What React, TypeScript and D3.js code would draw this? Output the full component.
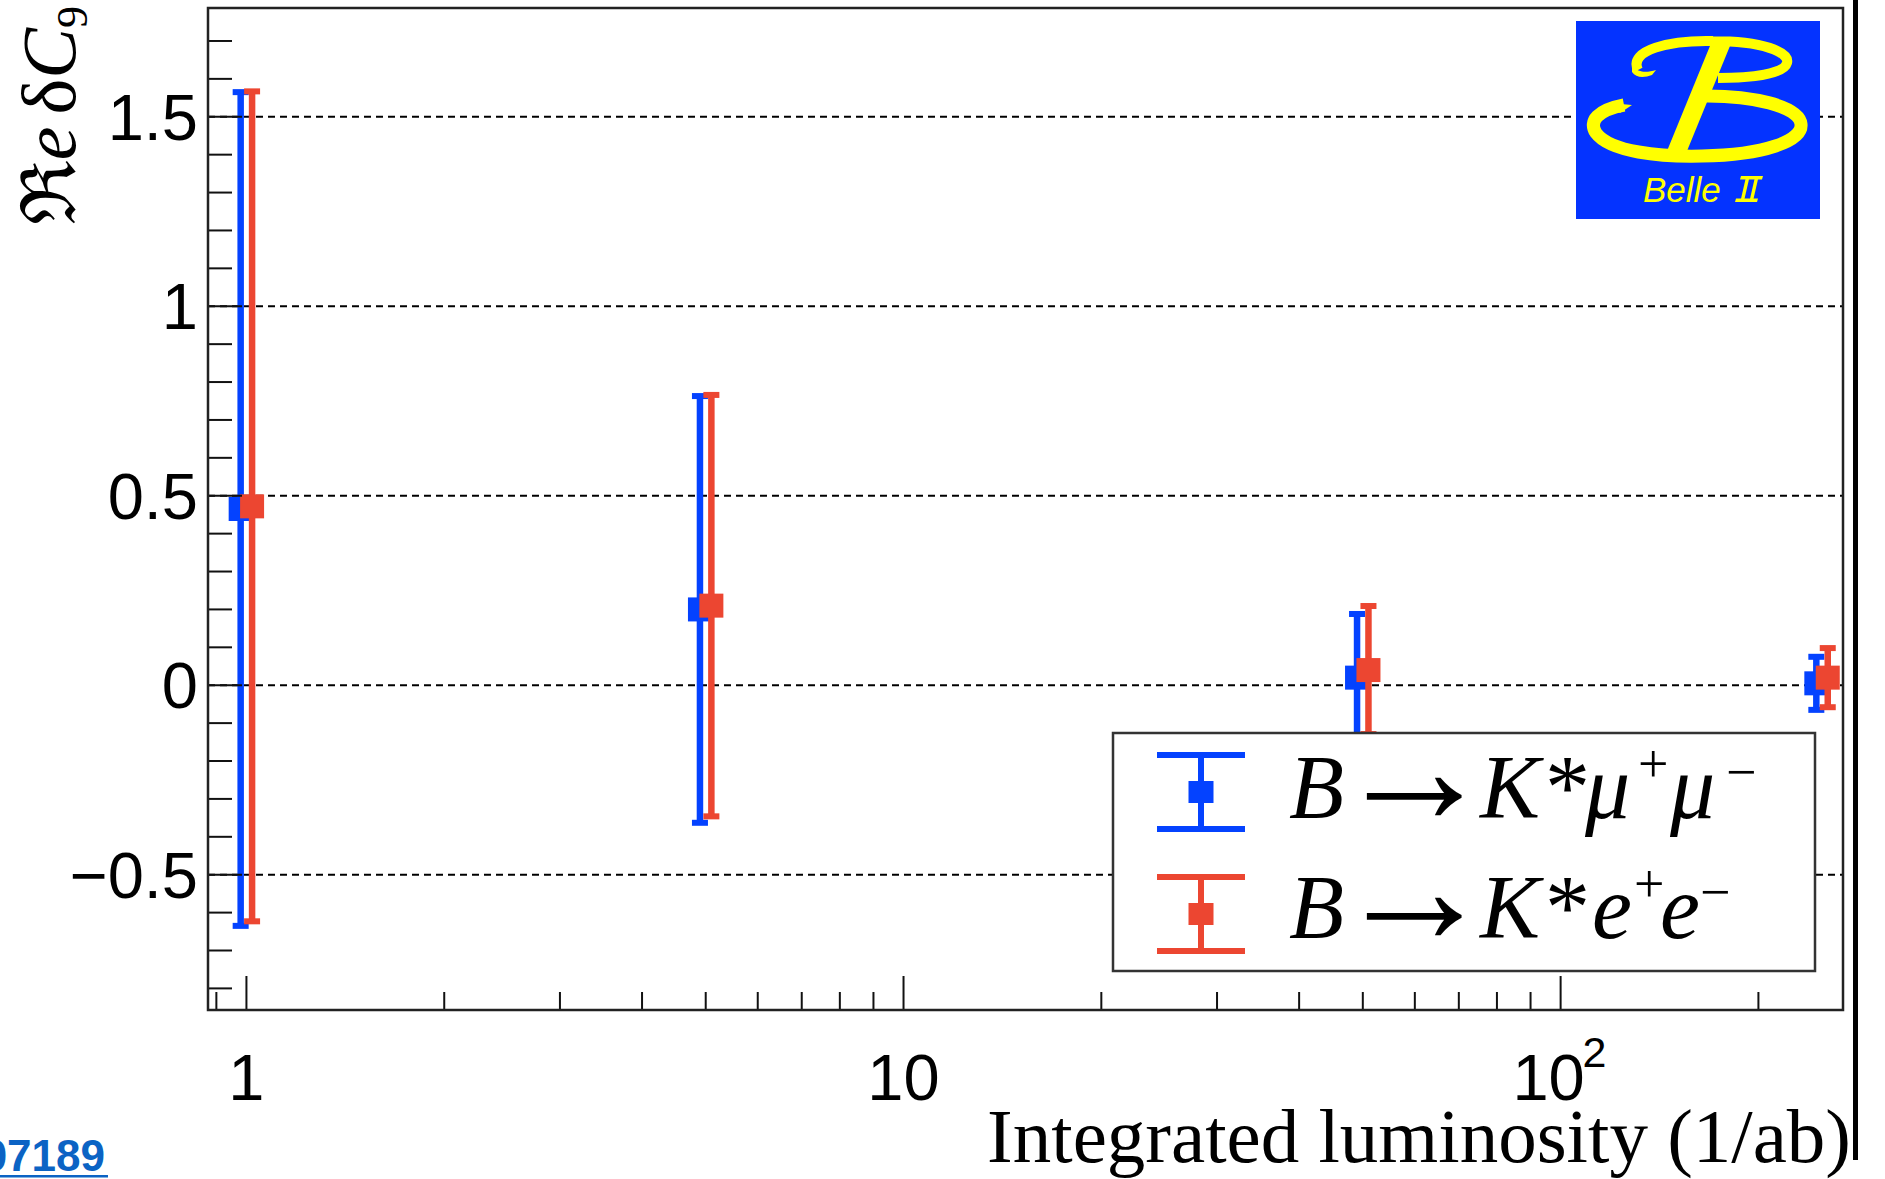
import React from "react";
import * as d3 from "d3";

// Projected sensitivity on Re(δC9) vs integrated luminosity
const luminosity = [1, 5, 50, 250];
const muValues = [0.465, 0.2, 0.02, 0.005];
const muErrors = [1.1, 0.563, 0.168, 0.07];
const eeValues = [0.472, 0.21, 0.04, 0.02];
const eeErrors = [1.095, 0.556, 0.169, 0.078];

const xMajorTicks = [1, 10, 100];
const xMinorTicks = [0.9, 2, 3, 4, 5, 6, 7, 8, 9, 20, 30, 40, 50, 60, 70, 80, 90, 200];
const yMajorTicks = [-0.5, 0, 0.5, 1, 1.5];
const yTickLabels = ["\u22120.5", "0", "0.5", "1", "1.5"];
const yMinorTicks = d3.range(-8, 18).map((i) => i / 10);

const W = 1885;
const H = 1179;
const frame = { left: 208, right: 1843, top: 8, bottom: 1010 };

const BLUE = "#0442ff";
const RED = "#ec4631";

const x = d3.scaleLog().domain([0.874, 269]).range([frame.left, frame.right]);
const y = d3.scaleLinear().domain([-0.857, 1.787]).range([frame.bottom, frame.top]);

const sans = "'Liberation Sans', Arial, Helvetica, sans-serif";
const serif = "'Liberation Serif', 'Times New Roman', 'DejaVu Serif', serif";

function ErrorSeries({ values, errors, shift, color }) {
  return (
    <g>
      {luminosity.map((l, i) => {
        const cx = x(l * shift);
        const yc = y(values[i]);
        const yHi = y(values[i] + errors[i]);
        const yLo = y(values[i] - errors[i]);
        return (
          <g key={i}>
            <line x1={cx} x2={cx} y1={yHi} y2={yLo} stroke={color} strokeWidth={6.5} />
            <rect x={cx - 8} y={yHi - 3} width={16} height={6} fill={color} />
            <rect x={cx - 8} y={yLo - 3} width={16} height={6} fill={color} />
            <rect x={cx - 12} y={yc - 12} width={24} height={24} fill={color} />
          </g>
        );
      })}
    </g>
  );
}

function LegendSymbol({ cx, cy, color }) {
  return (
    <g>
      <line x1={cx} x2={cx} y1={cy - 37} y2={cy + 37} stroke={color} strokeWidth={6} />
      <rect x={cx - 44} y={cy - 40} width={88} height={6} fill={color} />
      <rect x={cx - 44} y={cy + 34} width={88} height={6} fill={color} />
      <rect x={cx - 12.5} y={cy - 11} width={25} height={22} fill={color} />
    </g>
  );
}

function BelleLogo() {
  const yellow = "#ffff00";
  return (
    <g>
      <rect x={1576} y={21} width={244} height={198} fill="#0433ff" />
      <path
        d="M1638,70 C1628,50 1670,40 1713,41 C1762,41 1790,52 1787,63 C1784,74 1752,78 1718,78"
        fill="none"
        stroke={yellow}
        strokeWidth={10}
      />
      <path d="M1632,66 C1640,74 1648,72 1656,70 L1652,75 C1644,78 1636,78 1632,72 Z" fill={yellow} />
      <path
        d="M1624,105 C1598,110 1588,121 1596,133 C1610,152 1660,157 1702,156 C1764,155 1803,141 1801,124 C1799,106 1752,95 1700,96"
        fill="none"
        stroke={yellow}
        strokeWidth={13}
      />
      <path d="M1610,103 L1632,105 L1620,113 Z" fill={yellow} />
      <polygon points="1712,41 1732,41 1687,151 1667,151" fill={yellow} />
      <text x={1643} y={202} fontFamily={sans} fontStyle="italic" fontSize={35} fill={yellow}>
        Belle
      </text>
      <g fill={yellow}>
        <polygon points="1741,176 1763,176 1762,179.5 1740,179.5" />
        <polygon points="1736,198.5 1758,198.5 1757,202 1735,202" />
        <polygon points="1746,177 1749.5,177 1744,201 1740.5,201" />
        <polygon points="1755,177 1758.5,177 1753,201 1749.5,201" />
      </g>
    </g>
  );
}

export default function App() {
  const yTickLen = 24;
  const yMajorLen = 34;
  const xMajorLen = 34;
  const xMinorLen = 18;

  return (
    <div style={{ position: "absolute", left: 0, top: 0 }}>
      <svg width={W} height={H} viewBox={`0 0 ${W} ${H}`} style={{ display: "block", background: "#fff" }}>
        {/* dotted horizontal grid */}
        {yMajorTicks.map((v) => (
          <line
            key={`g${v}`}
            x1={frame.left}
            x2={frame.right}
            y1={y(v)}
            y2={y(v)}
            stroke="#000"
            strokeWidth={2}
            strokeDasharray="7 5"
          />
        ))}

        <ErrorSeries values={muValues} errors={muErrors} shift={0.98} color={BLUE} />
        <ErrorSeries values={eeValues} errors={eeErrors} shift={1.02} color={RED} />

        <BelleLogo />

        {/* legend */}
        <rect x={1113} y={733} width={702} height={238} fill="#fff" stroke="#333" strokeWidth={2.5} />
        <LegendSymbol cx={1201} cy={792} color={BLUE} />
        <LegendSymbol cx={1201} cy={914} color={RED} />
        <text fontFamily={serif} fontSize={90} fill="#000">
          <tspan x={1289} y={818} fontStyle="italic">B</tspan>
          <tspan x={1334} y={823} fontSize={160}>{"\u2192"}</tspan>
          <tspan x={1480} y={818} fontStyle="italic">K</tspan>
          <tspan x={1545} y={818}>*</tspan>
          <tspan x={1585} y={818} fontStyle="italic">{"\u03bc"}</tspan>
          <tspan x={1638} y={782} fontSize={54}>+</tspan>
          <tspan x={1670} y={818} fontStyle="italic">{"\u03bc"}</tspan>
          <tspan x={1726} y={790} fontSize={54}>{"\u2212"}</tspan>
        </text>
        <text fontFamily={serif} fontSize={90} fill="#000">
          <tspan x={1289} y={938} fontStyle="italic">B</tspan>
          <tspan x={1334} y={943} fontSize={160}>{"\u2192"}</tspan>
          <tspan x={1480} y={938} fontStyle="italic">K</tspan>
          <tspan x={1545} y={938}>*</tspan>
          <tspan x={1592} y={938} fontStyle="italic">e</tspan>
          <tspan x={1634} y={902} fontSize={54}>+</tspan>
          <tspan x={1660} y={938} fontStyle="italic">e</tspan>
          <tspan x={1700} y={910} fontSize={54}>{"\u2212"}</tspan>
        </text>

        {/* y axis ticks */}
        {yMinorTicks.map((v) => {
          const isMajor = yMajorTicks.some((m) => Math.abs(m - v) < 1e-9);
          return (
            <line
              key={`yt${v}`}
              x1={frame.left}
              x2={frame.left + (isMajor ? yMajorLen : yTickLen)}
              y1={y(v)}
              y2={y(v)}
              stroke="#111"
              strokeWidth={2}
            />
          );
        })}
        {yMajorTicks.map((v, i) => (
          <text
            key={`yl${v}`}
            x={198}
            y={y(v) + 23}
            textAnchor="end"
            fontFamily={sans}
            fontSize={65}
            fill="#000"
          >
            {yTickLabels[i]}
          </text>
        ))}

        {/* x axis ticks */}
        {xMajorTicks.map((v) => (
          <line key={`xM${v}`} x1={x(v)} x2={x(v)} y1={frame.bottom} y2={frame.bottom - xMajorLen} stroke="#111" strokeWidth={2} />
        ))}
        {xMinorTicks.map((v) => (
          <line key={`xm${v}`} x1={x(v)} x2={x(v)} y1={frame.bottom} y2={frame.bottom - xMinorLen} stroke="#111" strokeWidth={2} />
        ))}
        <text x={x(1)} y={1100} textAnchor="middle" fontFamily={sans} fontSize={65} fill="#000">1</text>
        <text x={x(10)} y={1100} textAnchor="middle" fontFamily={sans} fontSize={65} fill="#000">10</text>
        <text x={x(100) - 12} y={1100} textAnchor="middle" fontFamily={sans} fontSize={65} fill="#000">10</text>
        <text x={x(100) + 22} y={1067} textAnchor="start" fontFamily={sans} fontSize={43} fill="#000">2</text>

        {/* frame */}
        <rect
          x={frame.left}
          y={frame.top}
          width={frame.right - frame.left}
          height={frame.bottom - frame.top}
          fill="none"
          stroke="#222"
          strokeWidth={2.5}
        />

        {/* axis titles */}
        <text x={1851} y={1162} textAnchor="end" fontFamily={serif} fontSize={77} fill="#000">
          Integrated luminosity (1/ab)
        </text>
        <text transform="translate(75,6) rotate(-90)" textAnchor="end" fontFamily={serif} fontSize={76} fill="#000">
          <tspan>{"\u211c"}</tspan>
          <tspan fontStyle="italic">e</tspan>
          <tspan dx={12}>{"\u03b4"}</tspan>
          <tspan fontStyle="italic">C</tspan>
          <tspan dy={12} fontSize={44}>9</tspan>
        </text>

        {/* slide edge */}
        <rect x={1853} y={0} width={5} height={1160} fill="#000" />

        {/* reference link */}
        <text x={105} y={1171} textAnchor="end" fontFamily={sans} fontWeight="bold" fontSize={44} fill="#0b63c4">
          07189
        </text>
        <rect x={0} y={1175} width={108} height={2.5} fill="#0b63c4" />
      </svg>
    </div>
  );
}
